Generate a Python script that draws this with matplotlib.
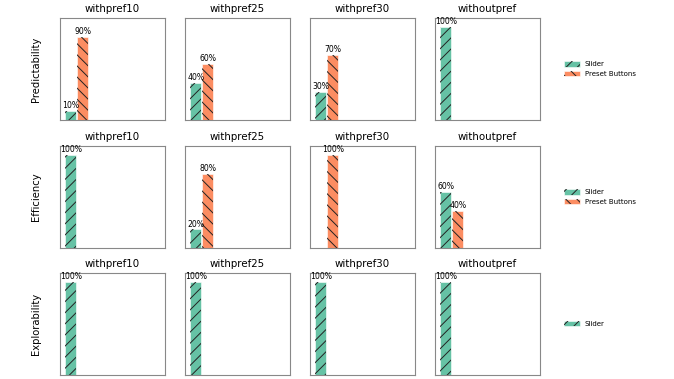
import matplotlib
matplotlib.use("Agg")
import matplotlib.pyplot as plt
from matplotlib.patches import Patch

conditions = ["withpref10", "withpref25", "withpref30", "withoutpref"]
metrics = ["Predictability", "Efficiency", "Explorability"]
options = ["Slider", "Preset Buttons", "Opt3", "Opt4", "Opt5", "Opt6", "Opt7", "Opt8"]

predictability = {
    "withpref10": [10, 90, 0, 0, 0, 0, 0, 0],
    "withpref25": [40, 60, 0, 0, 0, 0, 0, 0],
    "withpref30": [30, 70, 0, 0, 0, 0, 0, 0],
    "withoutpref": [100, 0, 0, 0, 0, 0, 0, 0],
}
efficiency = {
    "withpref10": [100, 0, 0, 0, 0, 0, 0, 0],
    "withpref25": [20, 80, 0, 0, 0, 0, 0, 0],
    "withpref30": [0, 100, 0, 0, 0, 0, 0, 0],
    "withoutpref": [60, 40, 0, 0, 0, 0, 0, 0],
}
explorability = {
    "withpref10": [100, 0, 0, 0, 0, 0, 0, 0],
    "withpref25": [100, 0, 0, 0, 0, 0, 0, 0],
    "withpref30": [100, 0, 0, 0, 0, 0, 0, 0],
    "withoutpref": [100, 0, 0, 0, 0, 0, 0, 0],
}
legend_items = [["Slider", "Preset Buttons"], ["Slider", "Preset Buttons"], ["Slider"]]

data = [predictability, efficiency, explorability]
colors = ["#66c2a5", "#fc8d62", "#8da0cb", "#e78ac3", "#a6d854", "#ffd92f", "#e5c494", "#b3b3b3"]
hatches = ["///", "\\\\\\", "", "", "", "", "", ""]

plt.rcParams['hatch.linewidth'] = 0.7
fig = plt.figure(figsize=(6.74, 3.79), dpi=100)
W, H = 674, 379
lefts = [60, 185, 310, 435]
tops = [18, 146, 273]
aw, ah = 105, 102

for r, metric in enumerate(metrics):
    for c, cond in enumerate(conditions):
        ax = fig.add_axes([lefts[c] / W, 1 - (tops[r] + ah) / H, aw / W, ah / H])
        vals = data[r][cond]
        for i, v in enumerate(vals):
            if v == 0:
                ax.bar(i, v, width=0.92, color=colors[i], edgecolor=colors[i],
                       linewidth=0.6, alpha=0.5)
                continue
            ax.bar(i, v, width=0.92, color=colors[i], edgecolor="white", linewidth=0.4)
            ax.bar(i, v, width=0.92, color="none", edgecolor="#222222",
                   linewidth=0, hatch=hatches[i])
            ax.text(i, v + 1, f"{v}%", ha="center", va="bottom", fontsize=5.6)
        ax.set_xlim(-0.9, 7.9)
        ax.set_ylim(0, 110)
        ax.set_xticks([])
        ax.set_yticks([])
        for s in ax.spines.values():
            s.set_color("#888888")
            s.set_linewidth(0.8)
        ax.set_title(cond, fontsize=7.4, pad=4)
        if c == 0:
            ax.set_ylabel(metric, fontsize=7.2, labelpad=14)
    handles = []
    for n in legend_items[r]:
        k = options.index(n)
        handles.append((Patch(facecolor=colors[k], edgecolor="white", linewidth=0.4),
                        Patch(facecolor="none", edgecolor="#222222", linewidth=0, hatch=hatches[k])))
    fig.legend(handles=handles, labels=legend_items[r], loc="center left", frameon=False, fontsize=5.0,
               bbox_to_anchor=(558 / W, 1 - (tops[r] + ah / 2) / H),
               handlelength=2.2, handleheight=0.75, handletextpad=0.75, labelspacing=0.45)

fig.savefig("out.png", dpi=100)
